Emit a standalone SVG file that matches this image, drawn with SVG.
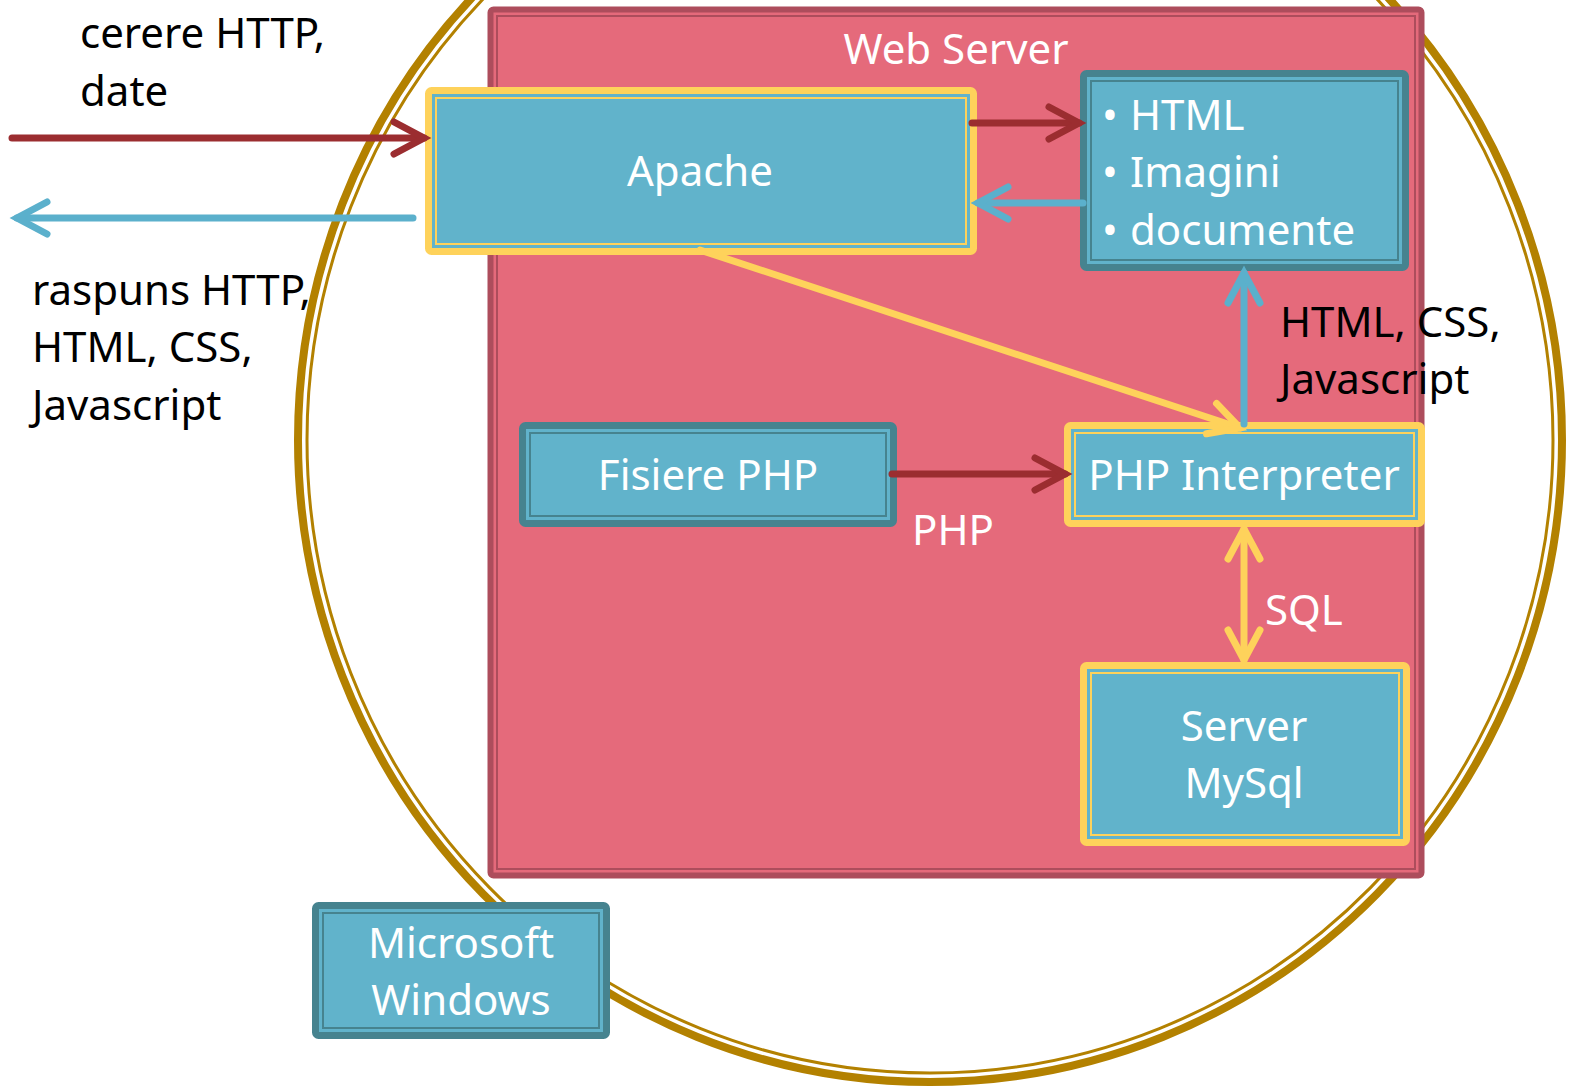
<svg xmlns="http://www.w3.org/2000/svg" width="1569" height="1087" viewBox="0 0 1569 1087">
<style>
text{font-family:"Noto Sans","Open Sans","DejaVu Sans",sans-serif;font-size:42px}
.w{fill:#ffffff}
.k{fill:#000000}
.c{text-anchor:middle}
.boxT{fill:#61b3cb;stroke:#46838f;stroke-width:7}
.boxTi{fill:none;stroke:#46838f;stroke-width:2}
.boxY{fill:#61b3cb;stroke:#fed25b;stroke-width:7}
.boxYi{fill:none;stroke:#fed25b;stroke-width:2}
.ln{fill:none;stroke-width:7;stroke-linecap:round}
.red{stroke:#9b2d30}
.blue{stroke:#5bb0cc}
.yel{stroke:#fed25b}
</style>
<defs>
<marker id="aR" markerUnits="userSpaceOnUse" viewBox="-40 -24 48 48" markerWidth="48" markerHeight="48" refX="0" refY="0" orient="auto-start-reverse">
<path d="M-30,-16 L0,0 L-30,16" fill="none" stroke="#9b2d30" stroke-width="7" stroke-linecap="round"/>
</marker>
<marker id="aB" markerUnits="userSpaceOnUse" viewBox="-40 -24 48 48" markerWidth="48" markerHeight="48" refX="0" refY="0" orient="auto-start-reverse">
<path d="M-30,-16 L0,0 L-30,16" fill="none" stroke="#5bb0cc" stroke-width="7" stroke-linecap="round"/>
</marker>
<marker id="aY" markerUnits="userSpaceOnUse" viewBox="-40 -24 48 48" markerWidth="48" markerHeight="48" refX="0" refY="0" orient="auto-start-reverse">
<path d="M-30,-16 L0,0 L-30,16" fill="none" stroke="#fed25b" stroke-width="7" stroke-linecap="round"/>
</marker>
</defs>
<rect width="1569" height="1087" fill="#ffffff"/>
<g id="circle">
<ellipse cx="930" cy="440" rx="632" ry="642" fill="none" stroke="#b38100" stroke-width="8"/>
<ellipse cx="930" cy="440" rx="623" ry="633" fill="none" stroke="#b38100" stroke-width="3"/>
</g>
<g id="webserver">
<rect x="490.5" y="9.5" width="931" height="866" rx="3" fill="#e56a7b" stroke="#ad4d5c" stroke-width="6"/>
<rect x="497" y="16" width="918" height="853" fill="none" stroke="#ad4d5c" stroke-width="2"/>
<text class="w c" x="956" y="64">Web Server</text>
</g>
<g id="apache">
<rect class="boxY" x="428.5" y="90.5" width="545" height="161" rx="3"/>
<rect class="boxYi" x="436" y="98" width="530" height="146"/>
<text class="w c" x="700" y="186">Apache</text>
</g>
<g id="files">
<rect class="boxT" x="1083.5" y="73.5" width="322" height="194" rx="3"/>
<rect class="boxTi" x="1091" y="81" width="307" height="179"/>
<text class="w" x="1102" y="130">•<tspan x="1130">HTML</tspan></text>
<text class="w" x="1102" y="187">•<tspan x="1130">Imagini</tspan></text>
<text class="w" x="1102" y="245">•<tspan x="1130">documente</tspan></text>
</g>
<g id="fisiere">
<rect class="boxT" x="522.5" y="425.5" width="371" height="98" rx="3"/>
<rect class="boxTi" x="530" y="433" width="356" height="83"/>
<text class="w c" x="708" y="490">Fisiere PHP</text>
</g>
<g id="interpreter">
<rect class="boxY" x="1067.5" y="425.5" width="354" height="98" rx="3"/>
<rect class="boxYi" x="1075" y="433" width="339" height="83"/>
<text class="w c" x="1244" y="490">PHP Interpreter</text>
</g>
<g id="mysql">
<rect class="boxY" x="1083.5" y="665.5" width="323" height="177" rx="3"/>
<rect class="boxYi" x="1091" y="673" width="308" height="162"/>
<text class="w c" x="1244" y="741">Server</text>
<text class="w c" x="1244" y="798">MySql</text>
</g>
<g id="windows">
<rect class="boxT" x="315.5" y="905.5" width="291" height="130" rx="3"/>
<rect class="boxTi" x="323" y="913" width="276" height="115"/>
<text class="w c" x="461" y="958">Microsoft</text>
<text class="w c" x="461" y="1015">Windows</text>
</g>
<g id="connectors">
<line class="ln red" x1="12" y1="138" x2="424" y2="138" marker-end="url(#aR)"/>
<line class="ln blue" x1="413" y1="218" x2="17" y2="218" marker-end="url(#aB)"/>
<line class="ln red" x1="972" y1="123" x2="1079" y2="123" marker-end="url(#aR)"/>
<line class="ln blue" x1="1083" y1="203" x2="978" y2="203" marker-end="url(#aB)"/>
<line class="ln yel" x1="700" y1="250" x2="1240" y2="428" marker-end="url(#aY)"/>
<line class="ln blue" x1="1244" y1="424" x2="1244" y2="273" marker-end="url(#aB)"/>
<line class="ln red" x1="892" y1="474" x2="1065" y2="474" marker-end="url(#aR)"/>
<line class="ln yel" x1="1244" y1="529" x2="1244" y2="660" marker-start="url(#aY)" marker-end="url(#aY)"/>
</g>
<g id="labels">
<text class="k" x="80" y="48">cerere HTTP,</text>
<text class="k" x="80" y="106">date</text>
<text class="k" x="32" y="305">raspuns HTTP,</text>
<text class="k" x="32" y="362">HTML, CSS,</text>
<text class="k" x="32" y="420">Javascript</text>
<text class="k" x="1280" y="337">HTML, CSS,</text>
<text class="k" x="1280" y="394">Javascript</text>
<text class="w" x="912" y="545">PHP</text>
<text class="w" x="1265" y="625">SQL</text>
</g>
</svg>
